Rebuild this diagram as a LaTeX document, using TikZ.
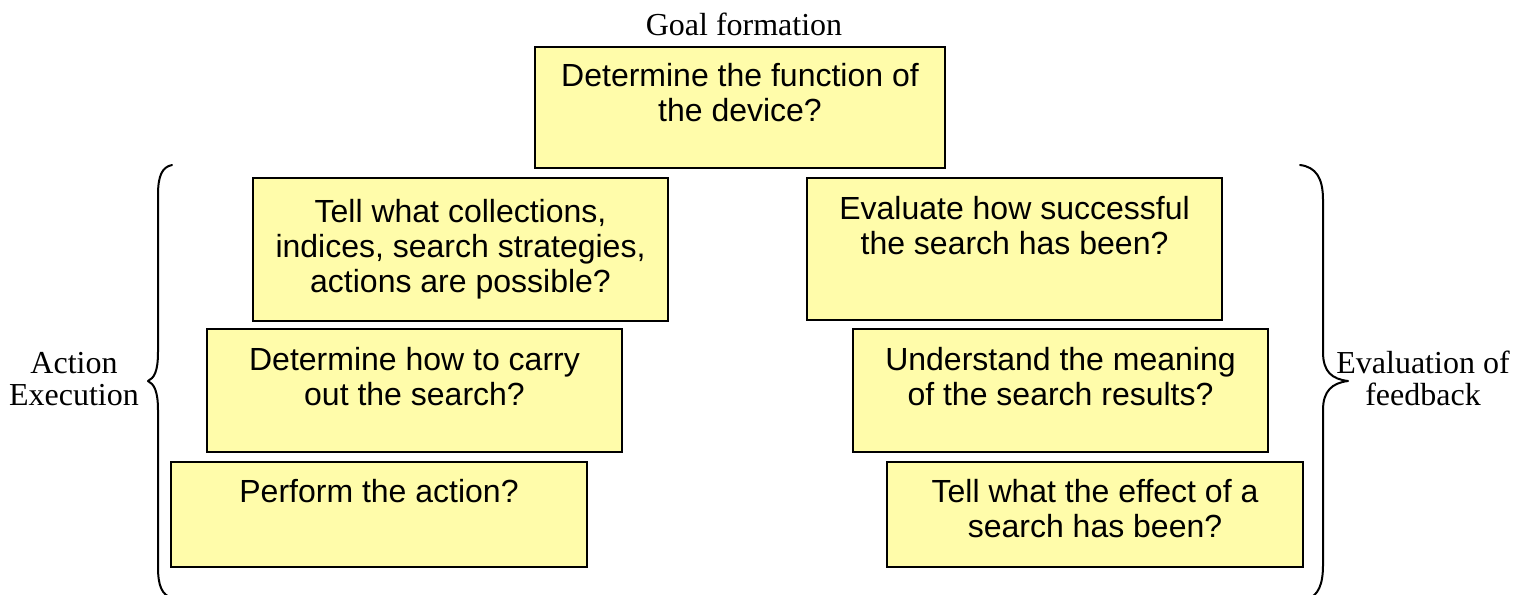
\documentclass[tikz,border=0pt]{standalone}
\usepackage{fontspec}
\setmainfont{Liberation Serif}
\newfontfamily\boxfont{Liberation Sans}
\definecolor{boxyellow}{RGB}{255,252,170}
\newcommand{\boxcontent}[4][20pt]{\parbox[c][#3][t]{#2}{\centering\rule{0pt}{#1}#4}}
\begin{document}
\begin{tikzpicture}[x=0.5pt,y=-0.5pt,
  qbox/.style={draw=black,line width=0.8pt,fill=boxyellow,inner sep=0pt,outer sep=0pt,anchor=north west,font=\boxfont\fontsize{16}{17.5}\selectfont},
  sidelabel/.style={font=\fontsize{16}{16}\selectfont,align=center,inner sep=0pt},
  bracepath/.style={line width=1pt,line join=round,line cap=round}]
\useasboundingbox (0,0) rectangle (1530,594);

% goal
\node[sidelabel,anchor=base] (goal) at (744,35) {Goal formation};
\node[qbox] (top) at (535,47) {\boxcontent[19.5pt]{205pt}{60.5pt}{Determine the function of\\the device?}};

% left column
\node[qbox] (l1) at (253,178) {\boxcontent[22pt]{207.5pt}{71.5pt}{Tell what collections,\\indices, search strategies,\\actions are possible?}};
\node[qbox] (l2) at (207,329) {\boxcontent[20.5pt]{207.5pt}{61.5pt}{Determine how to carry\\out the search?}};
\node[qbox] (l3) at (171,462) {\boxcontent[20pt]{208pt}{52.5pt}{Perform the action?}};

% right column
\node[qbox] (r1) at (807,178) {\boxcontent[20.5pt]{207.5pt}{71pt}{Evaluate how successful\\the search has been?}};
\node[qbox] (r2) at (853,329) {\boxcontent[20.5pt]{207.5pt}{61.5pt}{Understand the meaning\\of the search results?}};
\node[qbox] (r3) at (887,462) {\boxcontent[20pt]{208pt}{52.5pt}{Tell what the effect of a\\search has been?}};

% side labels
\node[sidelabel] (act) at (74,379) {Action\\Execution};
\node[sidelabel] (eval) at (1423,378) {Evaluation of\\feedback};

% braces
\begin{scope}
\clip (0,0) rectangle (1530,594);
\draw[bracepath] (172,165) .. controls (162,167) and (158,176) .. (158,195)
  -- (158,352) .. controls (158,372) and (154,378) .. (148,381)
  .. controls (154,384) and (158,391) .. (158,410)
  -- (158,567) .. controls (158,586) and (162,595) .. (172,598);
\draw[bracepath] (1300,165) .. controls (1316,167) and (1323,178) .. (1323,200)
  -- (1323,352) .. controls (1323,372) and (1332,379) .. (1348,381)
  .. controls (1332,383) and (1323,391) .. (1323,410)
  -- (1323,565) .. controls (1323,585) and (1318,595) .. (1308,599);
\end{scope}
\end{tikzpicture}
\end{document}
